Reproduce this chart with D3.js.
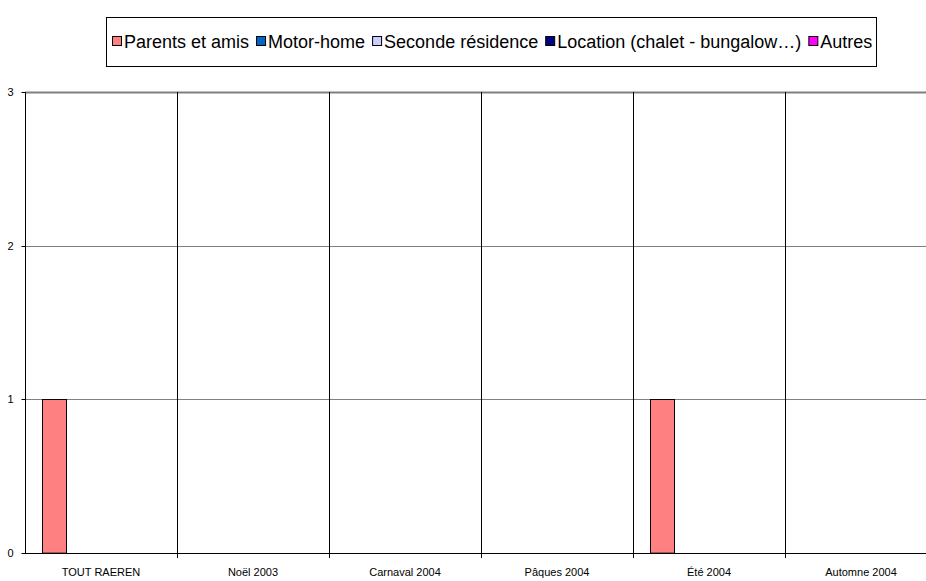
<!DOCTYPE html>
<html><head><meta charset="utf-8">
<script src="https://cdn.jsdelivr.net/npm/d3@7"></script>
<style>body{margin:0;background:#fff}svg{display:block}text{font-family:"Liberation Sans",Arial,sans-serif}</style>
</head><body>
<svg id="c" width="926" height="581"></svg>
<script>
const categories = ["TOUT RAEREN","Noël 2003","Carnaval 2004","Pâques 2004","Été 2004","Automne 2004"];
const seriesNames = ["Parents et amis","Motor-home","Seconde résidence","Location (chalet - bungalow…)","Autres"];
const parentsEtAmis = [1,0,0,0,1,0];
const motorHome = [0,0,0,0,0,0];
const secondeResidence = [0,0,0,0,0,0];
const location_ = [0,0,0,0,0,0];
const autres = [0,0,0,0,0,0];
const seriesValues = [parentsEtAmis, motorHome, secondeResidence, location_, autres];
const colors = ["#FF8080","#0066CC","#CCCCFF","#000080","#FF00FF"];
const yTicks = [0,1,2,3];

const svg = d3.select("#c");
const L = 25, R = 937, T = 92, B = 553;
const x = d3.scaleBand().domain(categories).range([L, R]).padding(0);
const xs = d3.scaleBand().domain(seriesNames).range([0, x.bandwidth()]).paddingInner(0).paddingOuter(0.7);
const y = d3.scaleLinear().domain([0,3]).range([B, T]);

// horizontal gridlines
svg.append("g").selectAll("line").data(yTicks.filter(d=>d>0)).join("line")
  .attr("x1", L).attr("x2", R).attr("y1", d=>Math.round(y(d))+0.5).attr("y2", d=>Math.round(y(d))+0.5)
  .attr("stroke", "#808080").attr("stroke-width", d=> d===3 ? 2 : 1);

// vertical category separators
const bounds = categories.map(c=>x(c)).concat([x(categories[categories.length-1])+x.bandwidth()]);
svg.append("g").selectAll("line").data(bounds.slice(1)).join("line")
  .attr("x1", d=>Math.round(d)+0.5).attr("x2", d=>Math.round(d)+0.5)
  .attr("y1", T).attr("y2", B+5).attr("stroke","#000");

// bars
const rows = [];
seriesValues.forEach((vals,si)=>vals.forEach((v,ci)=>{ if(v>0) rows.push({s:seriesNames[si], c:categories[ci], v, col:colors[si]}); }));
svg.append("g").selectAll("rect").data(rows).join("rect")
  .attr("x", d=>Math.round(x(d.c)+xs(d.s))+0.5).attr("width", Math.round(xs.bandwidth()))
  .attr("y", d=>Math.round(y(d.v))+0.5).attr("height", d=>y(0)-y(d.v))
  .attr("fill", d=>d.col).attr("stroke","#000").attr("stroke-width",1);

// y axis
const yAxis = d3.axisLeft(y).tickValues(yTicks).tickSize(4).tickPadding(8).tickFormat(d3.format("d"));
const gy = svg.append("g").attr("transform", `translate(${L+0.5},0)`).call(yAxis);
gy.select(".domain").attr("d", `M0,${T}V${B+0.5}`).attr("stroke","#000");
gy.selectAll(".tick line").attr("stroke","#000");
gy.selectAll("text").attr("font-size", 11).attr("fill","#000").attr("font-family","Liberation Sans, Arial, sans-serif");
gy.selectAll(".tick").attr("transform", d=>`translate(0,${Math.round(y(d))+0.5})`);

// x axis
const xAxis = d3.axisBottom(x).tickSize(0).tickPadding(15);
const gx = svg.append("g").attr("transform", `translate(0,${B+0.5})`).call(xAxis);
gx.select(".domain").attr("d", `M${L},0H${R}`).attr("stroke","#000");
gx.selectAll("text").attr("font-size", 11).attr("fill","#000").attr("font-family","Liberation Sans, Arial, sans-serif");

// legend
const lg = svg.append("g");
lg.append("rect").attr("x",106.5).attr("y",17.5).attr("width",770).attr("height",49)
  .attr("fill","#fff").attr("stroke","#000");
let cx = 112;
seriesNames.forEach((n,i)=>{
  lg.append("rect").attr("x",cx+0.5).attr("y",36.5).attr("width",9).attr("height",9)
    .attr("fill",colors[i]).attr("stroke","#000");
  const t = lg.append("text").attr("x",cx+12).attr("y",47.5).attr("font-size",18).attr("fill","#000").text(n);
  cx += 12 + t.node().getComputedTextLength() + 7;
});
</script>
</body></html>
